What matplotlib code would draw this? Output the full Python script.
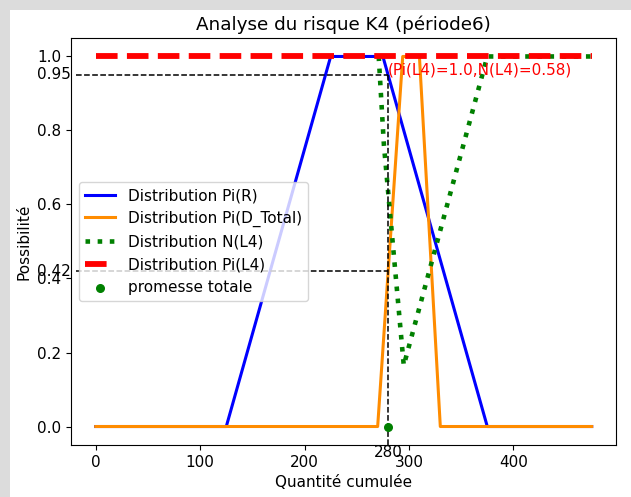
import matplotlib
matplotlib.use("Agg")
import matplotlib.pyplot as plt
from matplotlib.patches import Rectangle

# distributions (abscisse = quantité cumulée)
x_R = [0, 125, 225, 275, 375, 475]
pi_R = [0, 0, 1, 1, 0, 0]

x_D = [0, 270, 294, 310, 330, 475]
pi_D = [0, 0, 1, 1, 0, 0]

x_N = [271, 276, 295, 375, 475]
n_L4 = [1, 0.76, 0.165, 1, 1]

x_P = [0, 475]
pi_L4 = [1, 1]

promesse = 280
pi_R_prom = 0.95
pi_D_prom = 0.42

plt.rcParams["font.size"] = 11

fig = plt.figure(figsize=(6.31, 4.97), dpi=100)
ax = fig.add_axes([0.1125, 0.1046, 0.8645, 0.819])

ax.plot(x_R, pi_R, color="blue", lw=2.2, label="Distribution Pi(R)")
ax.plot(x_D, pi_D, color="darkorange", lw=2.2, label="Distribution Pi(D_Total)")
ax.plot(x_N, n_L4, color="green", ls=":", lw=3.3, label="Distribution N(L4)")
ax.plot(x_P, pi_L4, color="red", ls="--", lw=4.2, label="Distribution Pi(L4)")
ax.scatter([promesse], [0], color="green", s=30, zorder=5, label="promesse totale")

ax.set_xlim(-23.75, 498.75)
ax.set_ylim(-0.05, 1.05)

ax.hlines(pi_R_prom, -19, promesse, colors="black", linestyles="--", lw=1.1)
ax.hlines(pi_D_prom, -19, promesse, colors="black", linestyles="--", lw=1.1)
ax.vlines(promesse, -0.05, pi_R_prom, colors="black", linestyles="--", lw=1.1)

ax.text(-23.75, pi_R_prom, "0.95", ha="right", va="center")
ax.text(-23.75, pi_D_prom, "0.42", ha="right", va="center")
ax.text(promesse, -0.05, "280", ha="center", va="top")
ax.text(promesse, 0.95, "(Pi(L4)=1.0,N(L4)=0.58)", color="red")

ax.set_title("Analyse du risque K4 (période6)")
ax.set_xlabel("Quantité cumulée")
ax.set_ylabel("Possibilité")
ax.legend(loc="center left")

# bord gris de la fenêtre
fig.patches.append(Rectangle((0, 0), 10 / 631, 1, transform=fig.transFigure,
                             facecolor="#dcdcdc", edgecolor="none", zorder=-1))
fig.patches.append(Rectangle((0, 1 - 10 / 497), 1, 10 / 497, transform=fig.transFigure,
                             facecolor="#dcdcdc", edgecolor="none", zorder=-1))

fig.savefig("out.png", dpi=100)
